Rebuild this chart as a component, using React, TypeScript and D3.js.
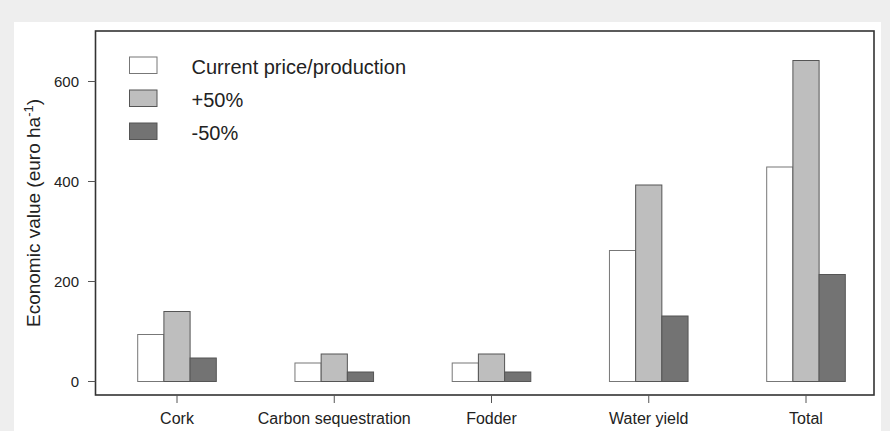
import * as d3 from "d3";
import { useRef, useEffect } from "react";

const categories = ["Cork", "Carbon sequestration", "Fodder", "Water yield", "Total"];
const series = ["Current price/production", "+50%", "-50%"];
const currentValues = [94, 37, 37, 262, 429];
const plusValues = [140, 55, 55, 393, 642];
const minusValues = [47, 19, 19, 131, 214];
const yTicks = [0, 200, 400, 600];

const fills = ["#ffffff", "#bebebe", "#737373"];

export default function App() {
  const svgRef = useRef<SVGSVGElement>(null);

  useEffect(() => {
    document.body.style.margin = "0";
    const svg = d3.select(svgRef.current);
    svg.selectAll("*").remove();

    const W = 890, H = 431;
    const box = { left: 95.5, right: 874, top: 31, bottom: 395 };

    // backdrop
    svg.append("rect").attr("width", W).attr("height", H).attr("fill", "#eeeeee");
    svg.append("rect").attr("x", 14).attr("y", 22).attr("width", 867).attr("height", H - 22).attr("fill", "#ffffff");

    const x = d3.scalePoint<string>().domain(categories).range([177, 806]);
    const sub = d3.scaleBand<string>().domain(series).range([-39.3, 39.3]);
    const y = d3.scaleLinear().domain([0, 600]).range([381.5, 81.5]);

    const values = [currentValues, plusValues, minusValues];
    const font = "Liberation Sans, Arial, sans-serif";

    series.forEach((s, si) => {
      svg.append("g")
        .selectAll("rect")
        .data(values[si])
        .enter()
        .append("rect")
        .attr("x", (d, i) => (x(categories[i]) as number) + (sub(s) as number))
        .attr("y", (d) => y(d))
        .attr("width", sub.bandwidth())
        .attr("height", (d) => y(0) - y(d))
        .attr("fill", fills[si])
        .attr("stroke", si === 0 ? "#777" : "#555")
        .attr("stroke-width", 1);
    });

    // frame
    svg.append("rect")
      .attr("x", box.left).attr("y", box.top)
      .attr("width", box.right - box.left).attr("height", box.bottom - box.top)
      .attr("fill", "none").attr("stroke", "#333").attr("stroke-width", 1.6);

    // y axis
    const yg = svg.append("g");
    yTicks.forEach((t) => {
      yg.append("line")
        .attr("x1", 88).attr("x2", box.left)
        .attr("y1", y(t)).attr("y2", y(t))
        .attr("stroke", "#555").attr("stroke-width", 1);
      yg.append("text")
        .attr("x", 79).attr("y", y(t))
        .attr("dy", "0.35em")
        .attr("text-anchor", "end")
        .attr("font-family", font).attr("font-size", 15).attr("fill", "#222")
        .text(t);
    });

    // x axis
    const xg = svg.append("g");
    categories.forEach((c) => {
      xg.append("line")
        .attr("x1", x(c) as number).attr("x2", x(c) as number)
        .attr("y1", box.bottom).attr("y2", 403)
        .attr("stroke", "#555").attr("stroke-width", 1);
      xg.append("text")
        .attr("x", x(c) as number).attr("y", 424)
        .attr("text-anchor", "middle")
        .attr("font-family", font).attr("font-size", 16).attr("fill", "#222")
        .text(c);
    });

    // y title
    const title = svg.append("text")
      .attr("transform", `translate(40,${(box.top + box.bottom) / 2}) rotate(-90)`)
      .attr("text-anchor", "middle")
      .attr("font-family", font).attr("font-size", 19).attr("fill", "#222");
    title.append("tspan").text("Economic value (euro ha");
    title.append("tspan").attr("font-size", 13).attr("dy", -7).text("-1");
    title.append("tspan").attr("dy", 7).text(")");

    // legend
    const lg = svg.append("g");
    series.forEach((s, i) => {
      const yy = 57 + i * 33;
      lg.append("rect")
        .attr("x", 129.5).attr("y", yy)
        .attr("width", 27.5).attr("height", 16.5)
        .attr("fill", fills[i])
        .attr("stroke", i === 0 ? "#777" : "#555");
      lg.append("text")
        .attr("x", 191.5).attr("y", yy + 16.5)
        .attr("font-family", font).attr("font-size", 20).attr("fill", "#222")
        .text(s);
    });
  }, []);

  return (
    <div>
      <svg ref={svgRef} width={890} height={431} style={{ display: "block" }}></svg>
    </div>
  );
}
